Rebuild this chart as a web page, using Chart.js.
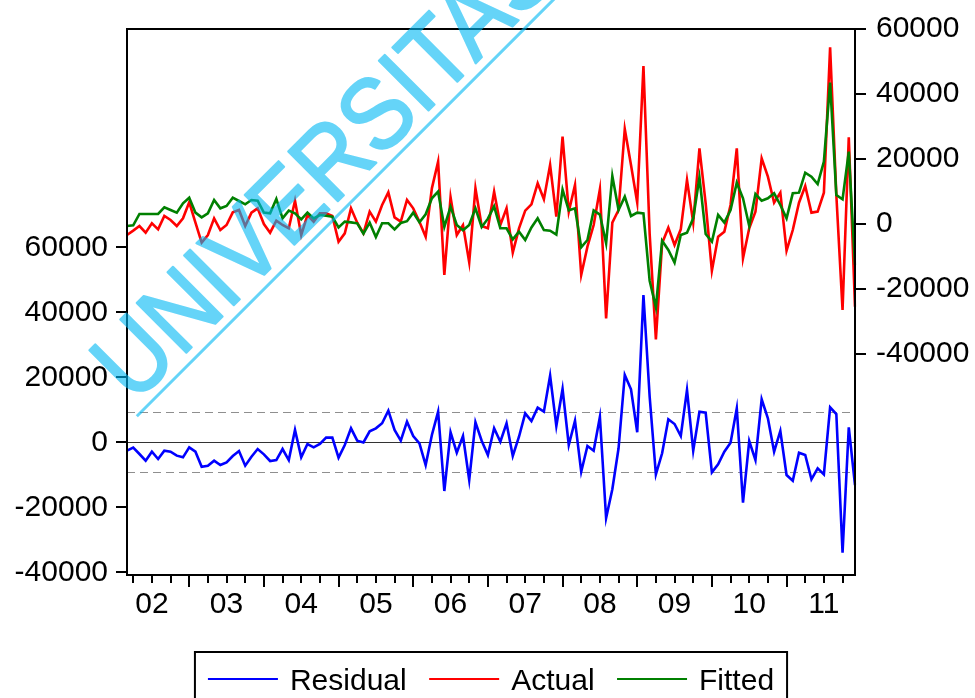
<!DOCTYPE html>
<html>
<head>
<meta charset="utf-8">
<script src="https://cdn.jsdelivr.net/npm/chart.js@4.4.1/dist/chart.umd.min.js"></script>
<style>
  html, body { margin: 0; padding: 0; background: #ffffff; }
  canvas { display: block; }
</style>
</head>
<body>
<canvas id="chart" width="975" height="698"></canvas>
<script>
// Monthly sample 2002M03 .. 2011M12
const startYear = 2002;
const startMonth = 3;
const yearLabels = ['02', '03', '04', '05', '06', '07', '08', '09', '10', '11'];

const actual = [
  -3390, -2050, -620, -2670, 210, -1640, 2460, 1230, -620, 1740,
  6670, 410, -5740, -3390, 1740, -1850, -310, 3590, 4310, -620,
  3490, 4820, 0, -2670, 1030, -310, -1330, 7180, -3390, 2770,
  720, 3280, 3280, 2460, -5440, -2870, 4820, 410, -2870, 3800,
  720, 5850, 9740, 2050, 720, 7390, 4820, 720, -3900, 10970,
  19180, -15690, 8210, -3390, -310, -11800, 10970, -620, -1330, 9950,
  -310, 4820, -8820, -1330, 4100, 6050, 12510, 7590, 18150, 2260,
  26870, 3800, 12000, -15690, -6970, -310, 10670, -29030, 410, 4310,
  29230, 18150, 6560, 48620, -3080, -35490, -5950, -1130, -6460, -1640,
  13540, 410, 23280, 6360, -14360, -3900, -2360, 5850, 23280, -10560,
  -1330, 3800, 20210, 14560, 6560, 9640, -8210, -1850, 6560, 11690,
  3490, 3800, 9640, 54360, 8920, -26460, 26670, -25440
];

const fitted = [
  -620, -410, 3080, 3080, 3080, 3080, 5130, 4310, 3490, 6360,
  8100, 3490, 2050, 3280, 7390, 4820, 5540, 8100, 7080, 6050,
  7390, 7180, 3490, 3280, 7690, 1740, 4100, 3280, 1440, 3490,
  1740, 2770, 2560, 2260, -1030, 720, 510, 210, -2970, 410,
  -4000, 210, 210, -1640, 300, 870, 3490, 560, 3000, 7900,
  9950, -920, 5330, -310, -1950, -310, 4820, -920, 1640, 5430,
  -1330, -1330, -4720, -2360, -4920, -1080, 1740, -1850, -2050, -3280,
  10560, 4200, 4820, -7180, -4920, 4200, 2900, -5950, 14770, 4310,
  8410, 2460, 3490, 3280, -17440, -25640, -5130, -8000, -11900, -3390,
  -2670, 1740, 14360, -3080, -5440, 2770, 410, 4310, 12720, 7900,
  -620, 9230, 7180, 7900, 9440, 5850, 1740, 9440, 9640, 15800,
  14560, 12310, 19180, 43490, 8920, 7590, 22260, -12620
];

const residual = [
  -2570, -1650, -3600, -5650, -2880, -5140, -2570, -2880, -4110, -4630,
  -1550, -2880, -7500, -7190, -5650, -6990, -6160, -4220, -2680, -7190,
  -4420, -2060, -3700, -5750, -5450, -2060, -5450, 3790, -4630, -520,
  -1550, -520, 1430, 1430, -4730, -830, 4300, 500, -50, 3370,
  4310, 5850, 9720, 3790, 500, 6340, 1940, -310, -6990, 2250,
  9420, -14990, 3080, -3200, 1940, -11600, 6150, 500, -3910, 4310,
  190, 5850, -4220, 1720, 8920, 6550, 10650, 9420, 20490, 5020,
  16400, -830, 6650, -9050, -1140, -2580, 7780, -23300, -14460, -1850,
  20710, 16310, 3080, 45320, 14030, -9850, -3390, 7080, 5630, 1940,
  16090, -2590, 9420, 9110, -9230, -6770, -2890, -120, 10460, -18590,
  400, -5450, 13230, 7390, -2890, 3480, -10060, -11820, -3200, -3910,
  -11390, -8000, -9850, 10770, 8710, -33970, 4620, -13140
];

// Standard error band of the residuals
const residualSE = 9290;

const residualTicks = [-40000, -20000, 0, 20000, 40000, 60000];
const levelTicks = [-40000, -20000, 0, 20000, 40000, 60000];

const FONT = '"Liberation Sans", Arial, sans-serif';

function monthOf(i) { return (startMonth - 1 + i) % 12 + 1; }
function yearOf(i) { return startYear + Math.floor((startMonth - 1 + i) / 12); }
const months = actual.map((_, i) => yearOf(i) + 'M' + String(monthOf(i)).padStart(2, '0'));

const whiteBackground = {
  id: 'whiteBackground',
  beforeDraw(chart) {
    const ctx = chart.ctx;
    ctx.save();
    ctx.fillStyle = '#ffffff';
    ctx.fillRect(0, 0, chart.width, chart.height);
    ctx.restore();
  }
};

// zero line and +/- one standard error around the residuals
const residualBands = {
  id: 'residualBands',
  beforeDatasetsDraw(chart) {
    const { ctx, chartArea: a } = chart;
    const y = chart.scales.y;
    ctx.save();
    ctx.beginPath();
    ctx.rect(a.left, a.top, a.right - a.left, a.bottom - a.top);
    ctx.clip();
    ctx.lineWidth = 1.2;
    ctx.strokeStyle = '#333333';
    const y0 = Math.round(y.getPixelForValue(0)) + 0.5;
    ctx.beginPath(); ctx.moveTo(a.left, y0); ctx.lineTo(a.right, y0); ctx.stroke();
    ctx.strokeStyle = '#8f8f8f';
    ctx.setLineDash([8, 5]);
    [residualSE, -residualSE].forEach(v => {
      const yy = Math.round(y.getPixelForValue(v)) + 0.5;
      ctx.beginPath(); ctx.moveTo(a.left, yy); ctx.lineTo(a.right, yy); ctx.stroke();
    });
    ctx.restore();
  }
};

// plot frame plus quarterly / yearly tick marks on the date axis
const frameAndDateTicks = {
  id: 'frameAndDateTicks',
  afterDatasetsDraw(chart) {
    const { ctx, chartArea: a } = chart;
    const x = chart.scales.x;
    ctx.save();
    ctx.strokeStyle = '#000000';
    ctx.lineWidth = 2;
    ctx.strokeRect(a.left, a.top, a.right - a.left, a.bottom - a.top);
    months.forEach((_, i) => {
      const m = monthOf(i);
      if ((m - 1) % 3 !== 0) return;
      const px = Math.round(x.getPixelForValue(i));
      const len = m === 1 ? 12 : 8;
      ctx.beginPath();
      ctx.moveTo(px, a.bottom);
      ctx.lineTo(px, a.bottom + len);
      ctx.stroke();
    });
    ctx.restore();
  }
};

// diagonal translucent stamp across the upper left of the figure
const watermark = {
  id: 'watermark',
  afterDraw(chart) {
    const off = document.createElement('canvas');
    off.width = chart.width;
    off.height = chart.height;
    const o = off.getContext('2d');
    o.translate(134, 405);
    o.rotate(-Math.PI / 4);
    o.fillStyle = '#00b9f5';
    o.strokeStyle = '#00b9f5';
    o.lineWidth = 2.2;
    o.lineJoin = 'round';
    o.font = '102px ' + FONT;
    o.textBaseline = 'alphabetic';
    o.save();
    o.scale(0.9, 1);
    o.fillText('UNIVERSITAS', 0, 0);
    o.strokeText('UNIVERSITAS', 0, 0);
    o.restore();
    o.fillRect(-6, 8.5, 900, 3);
    const ctx = chart.ctx;
    ctx.save();
    ctx.globalAlpha = 0.6;
    ctx.drawImage(off, 0, 0);
    ctx.restore();
  }
};

const boxedLegend = {
  id: 'boxedLegend',
  afterDraw(chart) {
    const ctx = chart.ctx;
    const sets = chart.data.datasets;
    ctx.save();
    ctx.font = '30px ' + FONT;
    const lineLen = 70, gapText = 12, gapItem = 22.5, padX = 13;
    const widths = sets.map(d => ctx.measureText(d.label).width);
    const total = padX * 2 + sets.length * (lineLen + gapText) + widths.reduce((s, w) => s + w, 0) + gapItem * (sets.length - 1);
    const a = chart.chartArea;
    const left = (a.left + a.right) / 2 - total / 2;
    const top = 652;
    ctx.strokeStyle = '#000000';
    ctx.lineWidth = 2;
    ctx.strokeRect(left, top, total, 80);
    let cx = left + padX;
    const lineY = 679;
    sets.forEach((d, i) => {
      ctx.strokeStyle = d.borderColor;
      ctx.lineWidth = 2;
      ctx.beginPath(); ctx.moveTo(cx, lineY); ctx.lineTo(cx + lineLen, lineY); ctx.stroke();
      cx += lineLen + gapText;
      ctx.fillStyle = '#000000';
      ctx.textBaseline = 'alphabetic';
      ctx.fillText(d.label, cx, 690);
      cx += widths[i] + gapItem;
    });
    ctx.restore();
  }
};

new Chart(document.getElementById('chart'), {
  type: 'line',
  data: {
    labels: months,
    datasets: [
      { label: 'Residual', data: residual, borderColor: '#0000ff', yAxisID: 'y', order: 2 },
      { label: 'Actual', data: actual, borderColor: '#ff0000', yAxisID: 'y1', order: 1 },
      { label: 'Fitted', data: fitted, borderColor: '#008000', yAxisID: 'y1', order: 0 }
    ]
  },
  options: {
    responsive: false,
    animation: false,
    devicePixelRatio: 1,
    layout: { padding: { top: 29, bottom: 73, left: 0, right: 0 } },
    elements: {
      line: { borderWidth: 2.6, tension: 0, fill: false },
      point: { radius: 0, hoverRadius: 0 }
    },
    plugins: { legend: { display: false }, tooltip: { enabled: false } },
    scales: {
      x: {
        type: 'category',
        grid: { display: false, drawTicks: false },
        border: { display: false },
        ticks: {
          autoSkip: false, maxRotation: 0, minRotation: 0, padding: 12,
          color: '#000000', font: { family: FONT, size: 30 },
          callback: (v, i) => monthOf(i) === 7 ? yearLabels[yearOf(i) - startYear] : ''
        },
        afterFit: s => { s.height = 50; }
      },
      y: {
        position: 'left',
        min: -40830, max: 127170,
        afterBuildTicks: s => { s.ticks = residualTicks.map(v => ({ value: v })); },
        grid: { drawOnChartArea: false, drawTicks: true, tickLength: 11, color: '#000000', lineWidth: 2 },
        border: { display: false },
        ticks: { padding: 8, color: '#000000', font: { family: FONT, size: 30 }, callback: v => String(v) },
        afterFit: s => { s.width = 127; }
      },
      y1: {
        position: 'right',
        min: -108000, max: 60000,
        afterBuildTicks: s => { s.ticks = levelTicks.map(v => ({ value: v })); },
        grid: { drawOnChartArea: false, drawTicks: true, tickLength: 11, color: '#000000', lineWidth: 2 },
        border: { display: false },
        ticks: { padding: 10, color: '#000000', font: { family: FONT, size: 30 }, callback: v => String(v) },
        afterFit: s => { s.width = 120; }
      }
    }
  },
  plugins: [whiteBackground, residualBands, frameAndDateTicks, watermark, boxedLegend]
});
</script>
</body>
</html>
